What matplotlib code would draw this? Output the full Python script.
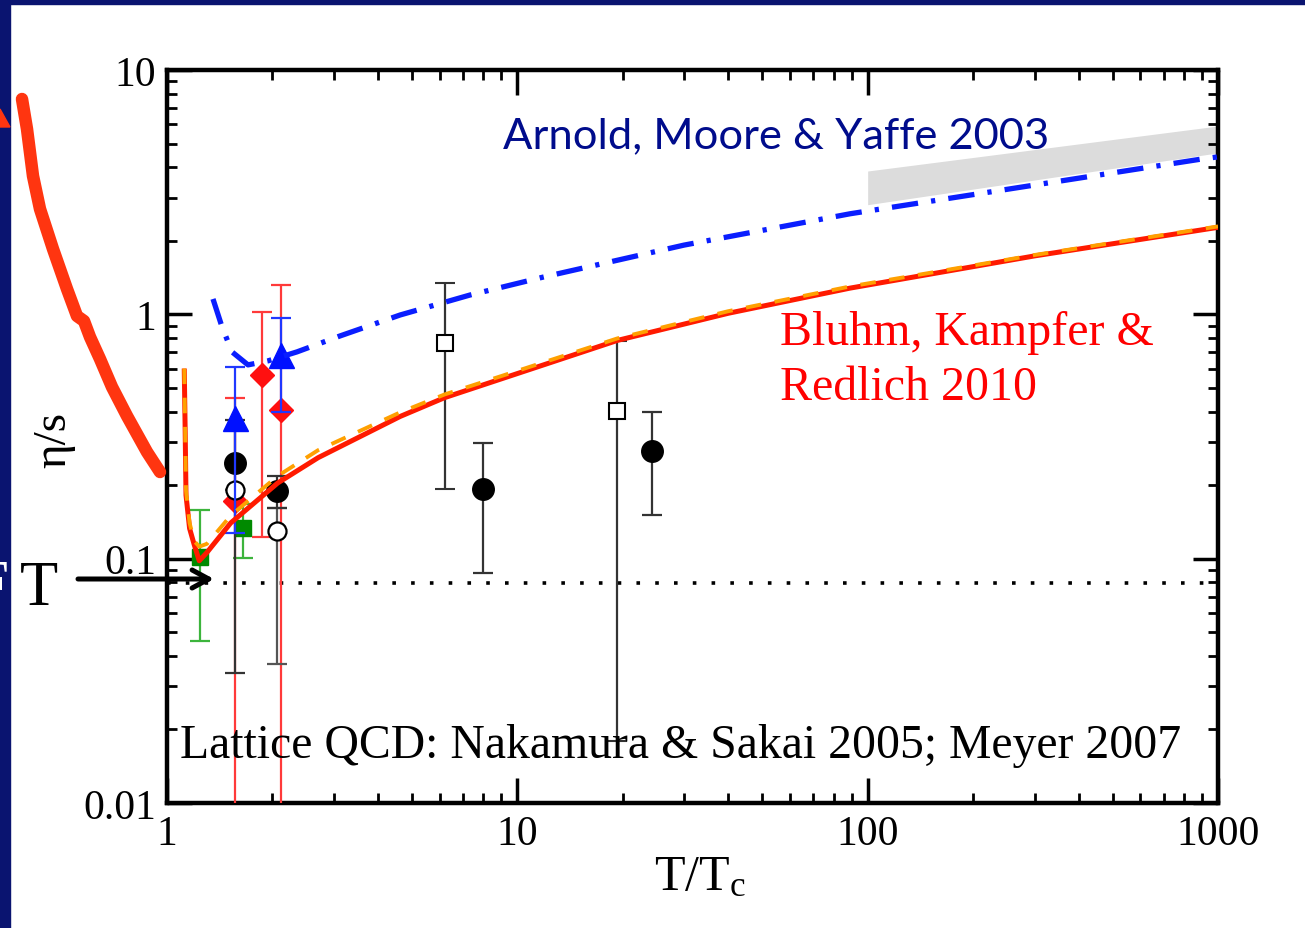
import matplotlib
matplotlib.use("Agg")
import matplotlib.pyplot as plt
from matplotlib.patches import Rectangle, Polygon
from matplotlib.lines import Line2D

W, H = 1305, 929
plt.rcParams["font.family"] = ["Liberation Serif", "DejaVu Serif"]
plt.rcParams["mathtext.fontset"] = "custom"
plt.rcParams["mathtext.rm"] = "Liberation Serif"
plt.rcParams["mathtext.it"] = "Liberation Serif:italic"

# Quasiparticle model, Bluhm, Kampfer & Redlich 2010 (two parameter sets)
bkr_T = [1.12, 1.127, 1.133, 1.16, 1.196, 1.236, 1.30, 1.52, 2.07, 2.70, 4.63, 6.2, 19.3, 40, 89, 300, 1000]
bkr_eta = [0.60, 0.33, 0.182, 0.133, 0.114, 0.098, 0.106, 0.140, 0.204, 0.259, 0.382, 0.456, 0.782, 1.01, 1.28, 1.735, 2.27]
bkr2_eta = [0.60, 0.33, 0.19, 0.14, 0.118, 0.112, 0.115, 0.150, 0.218, 0.278, 0.397, 0.470, 0.797, 1.03, 1.30, 1.75, 2.29]

# Perturbative QCD, Arnold, Moore & Yaffe 2003
amy_T = [1.353, 1.435, 1.533, 1.703, 1.942, 2.35, 3.12, 4.63, 7.33, 11.84, 29.9, 89.1, 906, 1000]
amy_eta = [1.156, 0.89, 0.702, 0.621, 0.645, 0.702, 0.816, 0.994, 1.20, 1.42, 1.92, 2.58, 4.33, 4.41]

# Uncertainty band at high temperature
band_T = [100, 1000]
band_lo = [2.81, 4.58]
band_hi = [3.86, 5.90]

# KSS bound 1/(4 pi)
kss = 0.0796

# Lattice QCD, Nakamura & Sakai 2005
ns_T = [1.56, 2.06, 7.96, 24.2]
ns_eta = [0.247, 0.190, 0.193, 0.276]
ns_lo = [0.034, 0.161, 0.087, 0.151]
ns_hi = [0.37, 0.218, 0.297, 0.40]

ns_open_T = [1.56, 2.06]
ns_open_eta = [0.191, 0.130]
ns_open_lo = [0.191, 0.037]
ns_open_hi = [0.191, 0.161]

sq_T = [6.2, 19.3]
sq_eta = [0.764, 0.403]
sq_lo = [0.193, 0.018]
sq_hi = [1.34, 0.78]

tri_T = [1.56, 2.11]
tri_eta = [0.377, 0.683]
tri_lo = [0.127, 0.40]
tri_hi = [0.61, 0.97]

dia_T = [1.56, 1.87, 2.11]
dia_eta = [0.172, 0.565, 0.406]
dia_lo = [0.005, 0.123, 0.005]
dia_hi = [0.455, 1.02, 1.32]

# Lattice QCD, Meyer 2007
my_T = [1.24, 1.65]
my_eta = [0.102, 0.134]
my_err = [0.056, 0.033]

x_ticks = [1, 10, 100, 1000]
x_labels = ["1", "10", "100", "1000"]
y_ticks = [0.01, 0.1, 1, 10]
y_labels = ["0.01", "0.1", "1", "10"]


def fx(px):
    return px / W


def fy(py):
    return 1 - py / H


def yerr(val, lo, hi):
    return [[v - l for v, l in zip(val, lo)], [h - v for v, h in zip(val, hi)]]


fig = plt.figure(figsize=(W / 100, H / 100), dpi=100)
fig.patch.set_facecolor("white")

navy = "#0a1470"
fig.add_artist(Rectangle((0, fy(5)), 1, 5 / H, transform=fig.transFigure, color=navy, zorder=0))
fig.add_artist(Rectangle((0, 0), 10 / W, 1, transform=fig.transFigure, color=navy, zorder=0))

ax = fig.add_axes([fx(167), fy(804), (1218 - 167) / W, (804 - 71) / H])
ax.set_xscale("log")
ax.set_yscale("log")
ax.set_xlim(1, 1000)
ax.set_ylim(0.01, 10)

ax.fill_between(band_T, band_lo, band_hi, color="#dcdcdc", lw=0, zorder=1)
ax.axhline(kss, color="black", lw=2.6, ls=(0, (1, 4.2)), zorder=2)

eb = dict(capsize=7.5, elinewidth=1.6, capthick=1.6, ls="none")
ax.errorbar(my_T, my_eta, yerr=my_err, fmt="s", color="#008a00", ecolor="#3cb43c",
            ms=12, zorder=3, **eb)
ax.errorbar(dia_T, dia_eta, yerr=yerr(dia_eta, dia_lo, dia_hi), fmt="D", color="#ff1010",
            ecolor="#ff3a3a", ms=12.5, zorder=3, **eb)
ax.errorbar(ns_open_T, ns_open_eta, yerr=yerr(ns_open_eta, ns_open_lo, ns_open_hi), fmt="o",
            mfc="white", mec="black", mew=1.6, ecolor="#555555", ms=13, zorder=4, **eb)
ax.errorbar(ns_T, ns_eta, yerr=yerr(ns_eta, ns_lo, ns_hi), fmt="o", color="black",
            ecolor="#333333", ms=15.5, zorder=4, **eb)
ax.errorbar(sq_T, sq_eta, yerr=yerr(sq_eta, sq_lo, sq_hi), fmt="s", mfc="white",
            mec="black", mew=1.5, ecolor="#333333", ms=11, zorder=4, **eb)
ax.errorbar(tri_T, tri_eta, yerr=yerr(tri_eta, tri_lo, tri_hi), fmt="^", color="#0010ff",
            ecolor="#2038ff", ms=18, zorder=5, **eb)

ax.plot(bkr_T, bkr_eta, color="#ff1a00", lw=3.6, zorder=6, solid_capstyle="butt")
ax.plot(bkr_T, bkr2_eta, color="#ffa000", lw=2.8, ls=(0, (4, 3.5)), zorder=7)
ax.plot(amy_T, amy_eta, color="#0a1eff", lw=3.8, ls=(0, (5, 2.5, 0.8, 2.5)), zorder=6)

for side in ax.spines.values():
    side.set_linewidth(3.2)
ax.tick_params(which="both", direction="in", top=True, right=True, labelsize=30, pad=8)
ax.tick_params(which="major", length=18, width=2.5)
ax.tick_params(which="minor", length=7.5, width=2)
ax.set_xticks(x_ticks)
ax.set_xticklabels(x_labels)
ax.set_yticks(y_ticks)
ax.set_yticklabels(y_labels)

ax.text(9.1, 4.84, "Arnold, Moore & Yaffe 2003", color="#000c8c", fontsize=31.3,
        family="Lato", va="baseline", ha="left", zorder=8)
ax.text(56.2, 0.757, "Bluhm, Kampfer &", color="#ff0000", fontsize=34.5,
        va="baseline", ha="left", zorder=8)
ax.text(56.2, 0.451, "Redlich 2010", color="#ff0000", fontsize=34.5,
        va="baseline", ha="left", zorder=8)
ax.text(1.089, 0.0154, "Lattice QCD: Nakamura & Sakai 2005; Meyer 2007", color="black",
        fontsize=34.4, va="baseline", ha="left", zorder=8)

fig.text(fx(54), fy(440), "η/s", rotation=90, fontsize=34, ha="center", va="center")
fig.text(fx(700), fy(890), r"$\mathrm{T/T_c}$", fontsize=36, ha="center", va="baseline")

# Annotations on the slide
fig.text(fx(9), fy(605), "AdS/CF", color="white", fontsize=45, ha="right", va="baseline")
fig.text(fx(20), fy(605), "T", color="black", fontsize=45, ha="left", va="baseline")
ax.annotate("", xy=(214, H - 580), xytext=(78, H - 580), xycoords="figure pixels",
            textcoords="figure pixels",
            arrowprops=dict(arrowstyle="->,head_length=1.2,head_width=0.65", lw=3.6,
                            color="black", shrinkA=0, shrinkB=0), annotation_clip=False)

stroke_px = [(22, 100), (27, 130), (33, 177), (40, 210), (53, 250), (67, 290), (77, 317),
             (84, 322), (90, 338), (100, 360), (112, 388), (127, 417), (147, 453), (160, 473)]
fig.add_artist(Line2D([fx(p[0]) for p in stroke_px], [fy(p[1]) for p in stroke_px],
                      transform=fig.transFigure, color="#ff3510", lw=9,
                      solid_capstyle="round", solid_joinstyle="round"))
fig.add_artist(Polygon([(fx(0), fy(110)), (fx(10), fy(128)), (fx(0), fy(128))],
                       closed=True, transform=fig.transFigure, color="#ff3510"))

fig.savefig("out.png", dpi=100)
